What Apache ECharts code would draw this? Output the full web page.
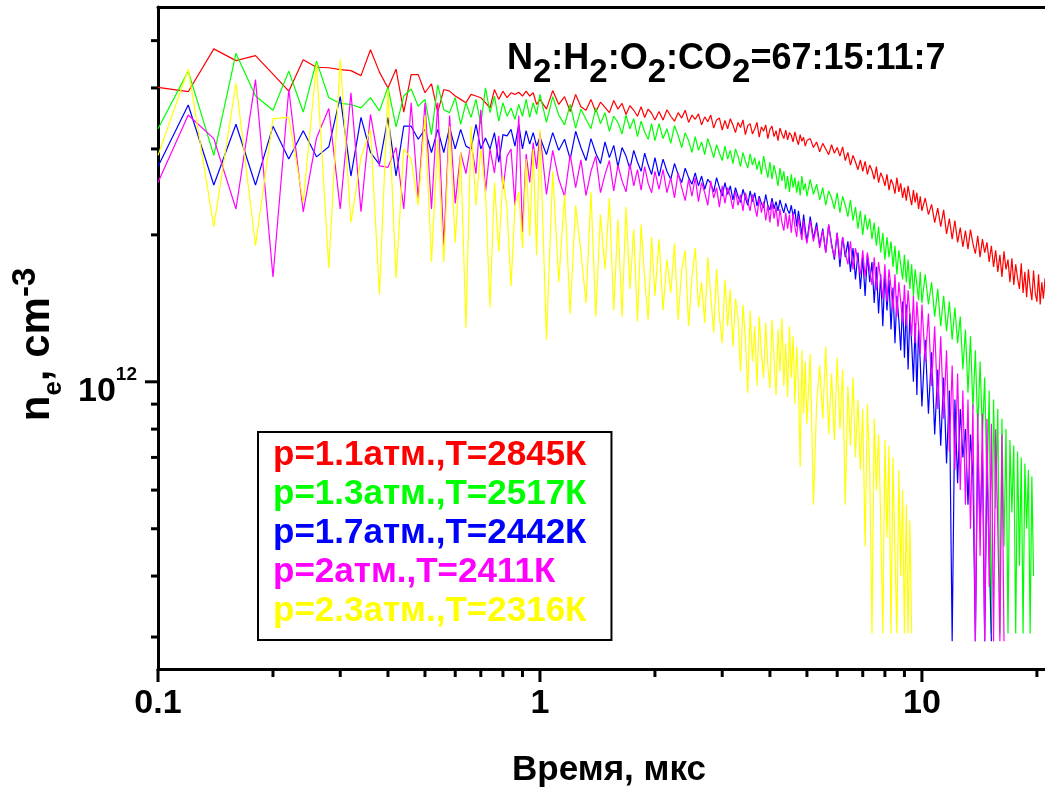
<!DOCTYPE html>
<html>
<head>
<meta charset="utf-8">
<script src="https://cdn.jsdelivr.net/npm/echarts@6/dist/echarts.min.js"></script>
<style>
  html, body { margin: 0; padding: 0; background: #fff; }
  #chart { width: 1045px; height: 793px; }
</style>
</head>
<body>
<div id="chart"></div>
<script>
// Time samples, µs: every 20 ns up to 1 µs, thinned afterwards
const timeEarly = [0.10,0.12,0.14,0.16,0.18,0.20,0.22,0.24,0.26,0.28,0.30,0.32,0.34,0.36,0.38,0.40,
  0.42,0.44,0.46,0.48,0.50,0.52,0.54,0.56,0.58,0.60,0.62,0.64,0.66,0.68,0.70,0.72,0.74,0.76,0.78,0.80,
  0.82,0.84,0.86,0.88,0.90,0.92,0.94,0.96,0.98,1.00];
const timeLate = [
  1.04,1.08,1.12,1.16,1.20,1.24,1.28,1.32,1.36,1.40,1.44,1.48,1.52,1.56,1.60,1.64,1.68,1.72,1.76,1.80,
  1.84,1.88,1.92,1.96,2.00,
  2.05,2.10,2.15,2.20,2.25,2.30,2.35,2.40,2.45,2.50,2.55,2.60,2.65,2.70,2.75,2.80,2.85,2.90,2.95,3.00,
  3.05,3.10,3.15,3.20,3.25,3.30,3.35,3.40,3.45,3.50,3.55,3.60,3.65,3.70,3.75,3.80,3.85,3.90,3.95,4.00,
  4.05,4.10,4.15,4.20,4.25,4.30,4.35,4.40,4.45,4.50,4.55,4.60,4.65,4.70,4.75,4.80,4.85,4.90,4.95,5.00,
  5.1,5.2,5.3,5.4,5.5,5.6,5.7,5.8,5.9,6.0,6.1,6.2,6.3,6.4,6.5,6.6,6.7,6.8,6.9,7.0,
  7.1,7.2,7.3,7.4,7.5,7.6,7.7,7.8,7.9,8.0,8.1,8.2,8.3,8.4,8.5,8.6,8.7,8.8,8.9,9.0,
  9.1,9.2,9.3,9.4,9.5,9.6,9.7,9.8,9.9,10.0,
  10.2,10.4,10.6,10.8,11.0,11.2,11.4,11.6,11.8,12.0,12.2,12.4,12.6,12.8,13.0,13.2,13.4,13.6,13.8,14.0,
  14.2,14.4,14.6,14.8,15.0,15.2,15.4,15.6,15.8,16.0,16.2,16.4,16.6,16.8,17.0,17.2,17.4,17.6,17.8,18.0,
  18.2,18.4,18.6,18.8,19.0,19.2,19.4,19.6,19.8,20.0,20.2,20.4,20.6,20.8,21.0];

// Electron density n_e, in units of 1e12 cm^-3 (aligned with timeEarly + timeLate)
const neP11 = [4.01,3.93,4.81,4.55,4.66,4.27,3.94,4.57,4.41,4.40,4.36,4.34,4.24,4.79,4.31,4.00,4.37,3.57,
  4.26,4.26,3.91,4.08,3.57,3.97,3.94,3.85,3.79,3.73,3.88,3.85,3.82,3.73,3.64,3.97,3.79,3.94,3.82,3.91,
  3.88,3.92,3.85,3.94,3.85,3.91,3.70,3.79,
  3.62,3.95,3.70,3.84,3.58,3.88,3.66,3.60,3.79,3.57,3.74,3.65,3.56,3.77,3.62,3.72,3.53,3.68,3.60,3.50,
  3.66,3.48,3.62,3.55,3.44,
  3.58,3.44,3.61,3.50,3.42,3.56,3.47,3.60,3.40,3.52,3.45,3.54,3.36,3.49,3.41,3.52,3.31,3.44,3.47,3.28,
  3.43,3.30,3.46,3.36,3.24,3.40,3.32,3.44,3.21,3.35,3.38,3.22,3.30,3.40,3.17,3.33,3.26,3.36,3.15,3.29,
  3.34,3.18,3.27,3.12,3.31,3.22,3.15,3.28,3.13,3.24,3.20,3.10,3.25,3.14,3.06,3.21,3.11,3.17,3.04,3.12,
  3.15,3.02,3.10,2.96,3.08,3.00,2.92,3.06,2.94,3.02,2.90,3.03,2.84,2.95,2.78,2.91,2.82,2.72,2.85,2.70,
  2.83,2.66,2.78,2.71,2.60,2.76,2.56,2.68,2.62,2.52,2.66,2.47,2.60,2.54,2.43,2.62,2.45,2.55,2.38,2.50,
  2.35,2.52,2.40,2.30,2.47,2.33,2.44,2.26,2.40,2.24,
  2.38,2.20,2.31,2.12,2.27,2.08,2.25,2.01,2.16,1.96,2.14,1.93,2.07,1.89,2.04,1.87,2.05,1.92,1.83,1.99,
  1.80,1.96,1.84,1.93,1.76,1.90,1.72,1.86,1.68,1.82,1.64,1.85,1.70,1.78,1.60,1.79,1.58,1.74,1.63,1.55,
  1.75,1.52,1.68,1.49,1.70,1.56,1.47,1.69,1.52,1.46,1.66,1.44,1.60,1.48,1.63];
const neP13 = [3.30,4.33,2.91,4.71,3.85,3.60,4.33,3.57,4.54,3.82,3.72,3.70,3.64,3.82,3.59,4.01,3.33,3.85,
  3.98,3.67,3.79,3.21,4.06,3.61,3.56,3.82,3.37,3.73,3.48,3.79,3.37,4.00,3.56,3.85,3.42,3.73,3.50,3.64,
  3.45,3.70,3.50,3.79,3.48,3.73,3.53,3.88,
  3.40,3.84,3.52,3.36,3.70,3.31,3.62,3.45,3.30,3.64,3.38,3.56,3.26,3.50,3.40,3.22,3.52,3.30,3.46,3.18,
  3.42,3.25,3.14,3.38,3.12,
  3.38,3.15,3.30,3.08,3.35,3.20,3.02,3.24,3.12,2.95,3.18,2.98,3.10,2.92,3.15,3.02,2.88,3.06,2.94,2.84,
  3.04,2.86,2.98,2.80,3.00,2.90,2.76,2.95,2.83,2.74,2.93,2.78,2.88,2.72,2.84,2.66,2.90,2.75,2.62,2.82,
  2.60,2.78,2.66,2.52,2.74,2.58,2.70,2.48,2.64,2.45,2.66,2.50,2.62,2.44,2.58,2.41,2.64,2.47,2.55,2.40,
  2.60,2.42,2.54,2.36,2.50,2.30,2.46,2.38,2.26,2.44,2.22,2.40,2.30,2.18,2.36,2.14,2.28,2.06,2.24,2.00,
  2.20,2.05,2.16,1.96,2.12,1.90,2.08,1.84,2.02,1.78,1.98,1.80,1.94,1.72,1.90,1.66,1.86,1.74,1.62,1.82,
  1.60,1.78,1.55,1.74,1.50,1.70,1.58,1.47,1.68,1.45,
  1.66,1.44,1.60,1.36,1.55,1.30,1.50,1.27,1.46,1.22,1.42,1.20,1.36,1.06,1.28,0.95,1.24,0.88,1.16,0.80,
  1.10,0.78,1.02,0.60,0.96,0.305,0.92,0.55,0.88,0.305,0.84,0.46,0.80,0.305,0.76,0.54,0.74,0.305,0.72,0.42,
  0.70,0.305,0.68,0.50,0.66,0.305,0.64,0.40];
const neP17 = [2.76,3.69,2.53,3.37,2.53,3.34,2.86,3.27,2.89,3.03,3.84,2.64,3.48,2.95,2.79,3.48,2.64,3.34,
  3.34,3.14,3.29,2.95,3.29,2.95,3.32,3.00,3.29,3.04,3.00,3.37,3.00,3.16,3.00,3.24,2.82,3.21,3.19,3.29,
  3.04,3.37,3.00,3.27,3.07,3.24,3.04,3.17,
  2.92,3.24,2.98,3.14,2.86,3.26,3.02,2.84,3.15,2.94,2.80,3.10,2.88,3.05,2.76,3.02,2.90,2.73,2.98,2.82,
  2.70,2.94,2.78,2.66,2.88,
  2.64,2.86,2.70,2.60,2.80,2.66,2.56,2.74,2.62,2.54,2.68,2.52,2.64,2.48,2.60,2.55,2.45,2.62,2.50,2.40,
  2.56,2.42,2.52,2.36,2.50,2.40,2.33,2.48,2.38,2.30,2.46,2.34,2.44,2.29,2.40,2.32,2.27,2.42,2.30,2.25,
  2.38,2.26,2.34,2.24,2.36,2.28,2.22,2.32,2.25,2.21,2.30,2.18,2.26,2.08,2.24,2.12,2.00,2.20,2.05,1.94,
  2.18,1.96,2.12,1.90,2.06,1.84,2.10,1.92,1.78,2.02,1.72,1.98,1.80,1.94,1.68,1.88,1.62,1.84,1.55,1.80,
  1.50,1.82,1.60,1.76,1.45,1.72,1.38,1.66,1.30,1.68,1.40,1.62,1.28,1.56,1.20,1.50,1.34,1.16,1.46,1.12,
  1.44,1.06,1.38,1.20,1.00,1.32,0.94,1.28,1.10,0.89,
  1.22,0.86,1.15,0.78,1.06,0.74,1.02,0.68,0.96,0.294,0.92,0.62,0.88,0.70,0.80,0.56,0.78,0.64,0.294,0.75,
  0.50,0.72,0.294,0.68,0.45,0.294];
const neP20 = [2.56,3.52,3.15,2.26,4.16,1.64,3.97,2.23,3.16,3.63,2.26,3.91,2.23,3.53,2.77,2.75,3.02,2.26,
  3.73,2.37,3.73,2.26,3.73,1.90,3.51,2.32,2.95,2.67,3.09,2.67,3.61,2.45,3.00,2.68,3.19,2.48,2.90,3.00,
  2.30,3.51,2.03,2.93,2.56,3.09,2.73,3.24,
  2.42,2.98,2.60,2.40,2.92,2.50,2.85,2.41,2.70,2.90,2.44,2.66,2.84,2.46,2.78,2.58,2.45,2.80,2.52,2.72,
  2.47,2.76,2.55,2.44,2.70,
  2.48,2.72,2.44,2.62,2.38,2.68,2.50,2.35,2.60,2.40,2.62,2.34,2.56,2.44,2.30,2.58,2.38,2.50,2.28,2.52,
  2.32,2.50,2.40,2.26,2.46,2.30,2.42,2.24,2.44,2.34,2.24,2.42,2.28,2.18,2.38,2.22,2.34,2.14,2.30,2.12,
  2.34,2.16,2.28,2.08,2.26,2.12,2.04,2.22,2.06,2.20,2.02,2.22,2.08,1.98,2.18,2.04,1.95,2.14,2.00,1.92,
  2.14,1.94,2.08,1.88,2.04,1.84,2.10,1.90,1.80,2.02,1.78,1.98,1.84,1.74,1.94,1.70,1.88,1.76,1.66,1.86,
  1.64,1.84,1.70,1.58,1.80,1.54,1.76,1.62,1.48,1.74,1.46,1.70,1.56,1.40,1.66,1.36,1.60,1.46,1.32,1.58,
  1.30,1.54,1.38,1.24,1.50,1.20,1.46,1.30,1.14,1.44,
  1.10,1.38,0.98,1.30,0.88,1.24,0.84,1.16,0.72,1.08,0.66,1.04,0.60,0.96,0.56,0.92,0.50,0.90,0.294,0.86,
  0.44,0.86,0.294,0.84,0.38,0.82,0.294,0.80,0.50,0.294,0.78,0.294];
const neP23 = [2.91,4.37,2.08,4.09,1.90,3.46,3.48,2.33,4.49,1.71,4.58,2.12,2.88,3.29,1.51,3.97,1.63,3.00,
  2.86,2.30,3.51,1.76,3.14,1.76,3.34,1.93,2.95,1.29,3.34,2.30,3.00,2.45,1.42,2.56,1.85,2.64,2.26,1.57,
  2.30,2.45,1.88,2.86,1.99,3.00,1.82,3.29,
  1.22,2.70,1.60,2.42,1.38,2.30,1.85,1.45,2.45,1.36,2.20,1.70,2.38,1.40,2.15,1.36,2.28,1.55,2.05,1.33,
  2.10,1.62,1.34,1.98,1.50,
  1.96,1.40,1.78,1.52,1.92,1.34,1.70,1.86,1.30,1.64,1.88,1.42,1.60,1.32,1.80,1.50,1.26,1.70,1.36,1.20,
  1.62,1.30,1.55,1.18,1.48,1.36,1.05,1.44,1.22,0.95,1.40,1.10,1.30,0.98,1.36,1.15,1.02,1.32,1.08,0.97,
  1.34,1.12,0.94,1.28,1.05,1.35,0.98,1.20,0.93,1.30,1.02,1.24,0.90,1.18,0.98,0.67,1.16,0.86,1.10,0.82,
  1.14,0.56,0.90,1.08,0.84,1.18,0.78,1.04,0.76,1.12,0.80,1.06,0.56,0.98,0.74,1.02,0.70,0.92,0.66,0.88,
  0.46,0.90,0.66,0.305,0.84,0.60,0.78,0.52,0.305,0.76,0.48,0.74,0.305,0.70,0.44,0.305,0.66,0.40,0.60,0.305,
  0.56,0.305,0.52,0.305];

const seriesNames = ['p=1.1атм.,T=2845К', 'p=1.3атм.,T=2517К', 'p=1.7атм.,T=2442К',
  'p=2атм.,T=2411К', 'p=2.3атм.,T=2316К'];
const seriesValues = [neP11, neP13, neP17, neP20, neP23];

// Axis ranges and tick marks
const timeRange = [0.1, 21];
const densityRange = [0.258, 5.86];          // 1e12 cm^-3
const xMajorTicks = [0.1, 1, 10];
const xMinorTicks = [0.2,0.3,0.4,0.5,0.6,0.7,0.8,0.9, 2,3,4,5,6,7,8,9, 20];
const yMajorTicks = [1];
const yMinorTicks = [0.3,0.4,0.5,0.6,0.7,0.8,0.9, 2,3,4,5];

const UNIT = 1e12;
const FONT = '"Liberation Sans", Arial, sans-serif';
const COLORS = ['#ff0000', '#00ff00', '#0000ff', '#ff00ff', '#ffff00'];

const timeAll = timeEarly.concat(timeLate);
const Y_MIN = densityRange[0] * UNIT;
const Y_MAX = densityRange[1] * UNIT;

const lineSeries = seriesValues.map((vals, i) => ({
  name: seriesNames[i],
  type: 'line',
  data: vals.map((v, k) => [timeAll[k], v * UNIT]),
  showSymbol: false,
  symbol: 'none',
  color: COLORS[i],
  lineStyle: { color: COLORS[i], width: 1.2 },
  silent: true,
  z: 2 + i
}));

// Tick marks of the logarithmic axes, placed through the axes' own scales
const xTickData = xMajorTicks.map(v => [v, Y_MIN, 1]).concat(xMinorTicks.map(v => [v, Y_MIN, 0]));
const yTickData = yMajorTicks.map(v => [timeRange[0], v * UNIT, 1])
  .concat(yMinorTicks.map(v => [timeRange[0], v * UNIT, 0]));

const tickSeries = [
  {
    type: 'custom', silent: true, clip: false, z: 20,
    data: xTickData,
    renderItem(params, api) {
      const cs = params.coordSys;
      const px = api.coord([api.value(0), Y_MIN])[0];
      const y0 = cs.y + cs.height;
      const len = api.value(2) ? 13 : 8;
      return { type: 'line', shape: { x1: px, y1: y0, x2: px, y2: y0 + len },
        style: { stroke: '#000', lineWidth: 3 } };
    }
  },
  {
    type: 'custom', silent: true, clip: false, z: 20,
    data: yTickData,
    renderItem(params, api) {
      const cs = params.coordSys;
      const py = api.coord([timeRange[0], api.value(1)])[1];
      const x0 = cs.x;
      const len = api.value(2) ? 13 : 7;
      return { type: 'line', shape: { x1: x0, y1: py, x2: x0 - len, y2: py },
        style: { stroke: '#000', lineWidth: 3 } };
    }
  }
];

const boldBlack = { color: '#000', fontWeight: 'bold', fontFamily: FONT };
const axisLineStyle = { show: true, lineStyle: { color: '#000', width: 3 } };

const chart = echarts.init(document.getElementById('chart'), null, { renderer: 'canvas' });
chart.setOption({
  animation: false,
  backgroundColor: '#fff',
  title: {
    text: '{a|N}{s|2}{a|:H}{s|2}{a|:O}{s|2}{a|:CO}{s|2}{a|=67:15:11:7}',
    left: 507, top: 41, padding: 0,
    textStyle: {
      rich: {
        a: Object.assign({ fontSize: 36, lineHeight: 36, verticalAlign: 'top' }, boldBlack),
        s: Object.assign({ fontSize: 33, lineHeight: 33, verticalAlign: 'top', padding: [15, 0, 0, 0] }, boldBlack)
      }
    }
  },
  legend: {
    orient: 'vertical',
    left: 258, top: 432,
    padding: [5, 25, 11, 10],
    itemGap: 3,
    itemWidth: 0, itemHeight: 0,
    icon: 'none',
    selectedMode: false,
    borderColor: '#000', borderWidth: 2,
    backgroundColor: '#fff',
    textStyle: { fontSize: 35, lineHeight: 36, fontWeight: 'bold', fontFamily: FONT },
    data: seriesNames.map((n, i) => ({ name: n, textStyle: { color: COLORS[i] } }))
  },
  grid: { left: 158, right: 0, top: 7, bottom: 120, containLabel: false },
  xAxis: [
    {
      type: 'log', logBase: 10, min: timeRange[0], max: timeRange[1], position: 'bottom',
      axisLine: axisLineStyle, axisTick: { show: false }, splitLine: { show: false },
      axisLabel: Object.assign({ fontSize: 34, margin: 18, showMaxLabel: false,
        formatter: v => String(Number(Number(v).toPrecision(6))) }, boldBlack),
      name: 'Время, мкс', nameLocation: 'middle', nameGap: 84,
      nameTextStyle: Object.assign({ fontSize: 35, padding: [0, 0, 0, 15] }, boldBlack)
    },
    {
      type: 'log', logBase: 10, min: timeRange[0], max: timeRange[1], position: 'top',
      axisLine: axisLineStyle, axisTick: { show: false }, axisLabel: { show: false },
      splitLine: { show: false }
    }
  ],
  yAxis: [
    {
      type: 'log', logBase: 10, min: Y_MIN, max: Y_MAX, position: 'left',
      axisLine: axisLineStyle, axisTick: { show: false }, splitLine: { show: false },
      axisLabel: {
        margin: 21, showMinLabel: false, showMaxLabel: false,
        formatter: v => (Math.abs(v / UNIT - 1) < 1e-6 ? '{b|10}{s|12}' : ''),
        rich: {
          b: Object.assign({ fontSize: 34, lineHeight: 34, verticalAlign: 'top', padding: [10, 0, 0, 0] }, boldBlack),
          s: Object.assign({ fontSize: 19, lineHeight: 19, verticalAlign: 'top' }, boldBlack)
        }
      },
      name: '{m|n}{sub|e}{m|, cm}{sup|-3}',
      nameLocation: 'middle', nameRotate: 90, nameGap: 101,
      nameTextStyle: {
        rich: {
          m: Object.assign({ fontSize: 42, lineHeight: 42, verticalAlign: 'top', padding: [7, 0, 0, 0] }, boldBlack),
          sub: Object.assign({ fontSize: 26, lineHeight: 26, verticalAlign: 'top', padding: [32, 0, 0, 0] }, boldBlack),
          sup: Object.assign({ fontSize: 33, lineHeight: 33, verticalAlign: 'top', padding: [0, 13, 0, 0] }, boldBlack)
        }
      }
    }
  ],
  series: lineSeries.concat(tickSeries)
});
</script>
</body>
</html>
